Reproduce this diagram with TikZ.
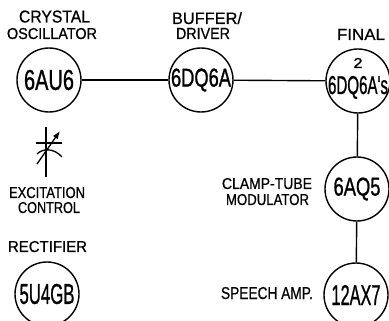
\documentclass[tikz,border=0pt]{standalone}
\usepackage{fontspec}
\usepackage{graphicx}
\usetikzlibrary{arrows.meta}
\setmainfont{Liberation Sans}
\newfontfamily\heavy[FakeBold=1.2]{Liberation Sans}
\newfontfamily\medium[FakeBold=0.7]{Liberation Sans}
\newcommand{\fit}[3]{\resizebox{#1pt}{#2pt}{\heavy #3}}
\newcommand{\lbl}[3]{\resizebox{#1pt}{#2pt}{\medium #3}}
\tikzset{
  x=1pt,y=-1pt,
  tube/.style={circle,draw=black,line width=1.4pt,minimum size=64pt,inner sep=0pt},
  lab/.style={inner sep=0pt,text=black,anchor=base},
  link/.style={draw=black,line width=1.4pt},
  sym/.style={draw=black,line width=1.3pt}
}
\begin{document}
\begin{tikzpicture}
\useasboundingbox (0,0) rectangle (389,321);
\clip (0,0) rectangle (389,321);
\node[tube] (osc) at (49,80) {\fit{50}{20}{6AU6}};
\node[tube] (buf) at (201,80) {\fit{60}{18}{6DQ6A}};
\node[tube] (fin) at (358,81) {};
\node[lab] (two) at (358,68) {\fit{9}{10}{2}};
\node[lab] (fintxt) at (358,94) {\fit{60}{18}{6DQ6A's}};
\node[tube] (mod) at (357,189) {\fit{47}{18}{6AQ5}};
\node[tube] (amp) at (356,295) {\fit{49}{20}{12AX7}};
\node[tube] (rec) at (47,294) {\fit{55}{20}{5U4GB}};
\draw[link] (osc) -- (buf);
\draw[link] (buf) -- (fin);
\draw[link] (fin) -- (mod);
\draw[link] (mod) -- (amp);
\node[lab] (t1) at (54.5,22.5) {\lbl{71}{12}{CRYSTAL}};
\node[lab] (t2) at (52,39) {\lbl{90}{11}{OSCILLATOR}};
\node[lab] (t3) at (207,24) {\lbl{70}{12}{BUFFER/}};
\node[lab] (t4) at (203,39) {\lbl{54}{11}{DRIVER}};
\node[lab] (t5) at (361,40) {\lbl{48}{11}{FINAL}};
\node[lab] (t6) at (47,198) {\lbl{76}{11}{EXCITATION}};
\node[lab] (t7) at (49,213) {\lbl{62}{11}{CONTROL}};
\node[lab] (t8) at (47.5,252) {\lbl{79}{11}{RECTIFIER}};
\node[lab] (t9) at (267,189) {\lbl{90}{11}{CLAMP-TUBE}};
\node[lab] (t10) at (267.5,205) {\lbl{83}{11}{MODULATOR}};
\node[lab] (t11) at (267,299) {\lbl{92}{12}{SPEECH AMP.}};
\coordinate (c1) at (46,127);
\coordinate (c2) at (46,177);
\coordinate (p1) at (36,143);
\coordinate (p2) at (62,143);
\coordinate (q1) at (37,154);
\coordinate (q2) at (62,157);
\coordinate (a1) at (37,164);
\coordinate (a2) at (60,131);
\draw[sym] (c1) -- (c2);
\draw[sym] (p1) -- (p2);
\draw[sym] (q1) .. controls (43,148) and (54,148) .. (q2);
\draw[sym,-{Latex[length=8pt,width=6pt]}] (a1) -- (a2);
\end{tikzpicture}
\end{document}
